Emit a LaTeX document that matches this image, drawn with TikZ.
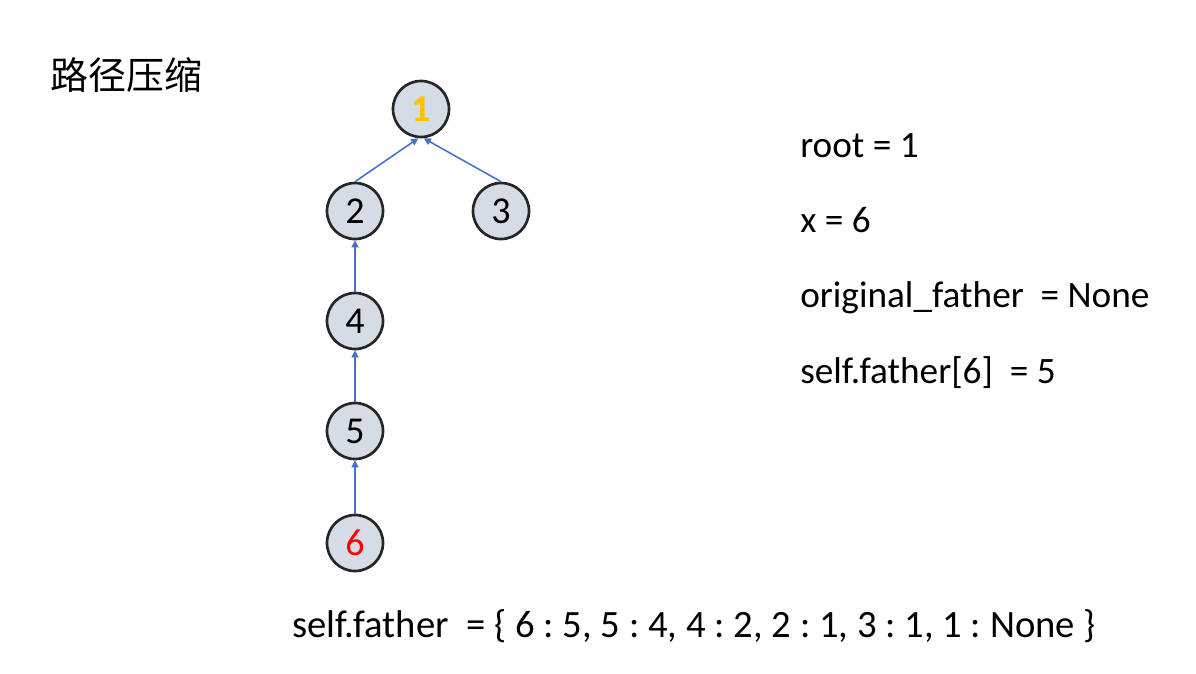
\documentclass[tikz,border=0pt]{standalone}
\usepackage{fontspec}
\setmainfont{Carlito}
\newfontfamily\cjk{Noto Sans CJK SC}
\usetikzlibrary{arrows.meta}
\definecolor{nodefill}{HTML}{D6DCE5}
\definecolor{nodeline}{HTML}{262626}
\definecolor{linkblue}{HTML}{4472C4}
\definecolor{rootgold}{HTML}{FFC000}
\frenchspacing
\begin{document}
\begin{tikzpicture}[x=0.025cm, y=-0.025cm,
    treenode/.style={draw=nodeline, line width=1.9pt, fill=nodefill, circle, minimum size=1.4cm, inner sep=0pt, font=\fontsize{27}{32}\selectfont},
    link/.style={draw=linkblue, line width=1.1pt, -{Triangle[length=5pt, width=5pt]}},
    info/.style={anchor=base west, inner sep=0pt, font=\fontsize{26.5}{30}\selectfont}]
    \useasboundingbox (0,0) rectangle (1196,673);

    % Title
    \node[anchor=west, inner sep=0pt, font=\cjk\fontsize{27}{32}\selectfont] (title) at (50,75) {路径压缩};

    % Tree nodes
    \node[treenode, font=\fontsize{27}{32}\selectfont\bfseries] (n1) at (421,109) {\textcolor{rootgold}{1}};
    \node[treenode] (n2) at (355,211) {2};
    \node[treenode] (n3) at (501,211) {3};
    \node[treenode] (n4) at (355,321) {4};
    \node[treenode] (n5) at (355,431) {5};
    \node[treenode] (n6) at (355,543) {\textcolor{red}{6}};

    % Links to the father
    \draw[link] (n2.north) -- ([xshift=-2pt]n1.south);
    \draw[link] (n3.north) -- ([xshift=2pt]n1.south);
    \draw[link] (n4.north) -- (n2.south);
    \draw[link] (n5.north) -- (n4.south);
    \draw[link] (n6.north) -- (n5.south);

    % Variables
    \node[info] (root) at (800,157) {root = 1};
    \node[info] (x) at (800,232) {x = 6};
    \node[info] (orig) at (800,307) {original\_father \ = None};
    \node[info] (sf6) at (800,383) {self.father[6] \ = 5};

    % Father dict
    \node[info, font=\fontsize{27.5}{32}\selectfont] (dict) at (292,637) {self.father \ = \{ 6 : 5, 5 : 4, 4 : 2, 2 : 1, 3 : 1, 1 : None \}};
\end{tikzpicture}
\end{document}
